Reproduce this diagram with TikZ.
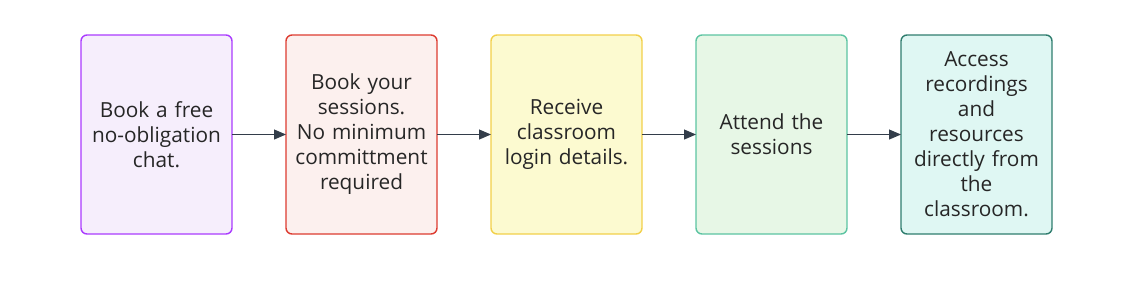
\documentclass[tikz,border=0pt]{standalone}
\usepackage{fontspec}
\setmainfont{Open Sans}
\usepackage{tikz}
\usetikzlibrary{arrows.meta, positioning}
\definecolor{chatpurple}{HTML}{AA3BFF}
\definecolor{chatfill}{HTML}{F6EEFC}
\definecolor{bookred}{HTML}{DD3B30}
\definecolor{bookfill}{HTML}{FCF0EE}
\definecolor{loginyellow}{HTML}{F2D04A}
\definecolor{loginfill}{HTML}{FCFAD0}
\definecolor{attendgreen}{HTML}{5CC4A2}
\definecolor{attendfill}{HTML}{E7F7E6}
\definecolor{accessteal}{HTML}{2F7D6E}
\definecolor{accessfill}{HTML}{DFF7F3}
\definecolor{linegray}{HTML}{333D4A}
\tikzset{
    stepbox/.style={rectangle, rounded corners=3pt, line width=0.7pt, outer sep=0pt, minimum width=75.5pt, minimum height=99.5pt, text width=74pt, align=center, inner sep=0pt, font=\fontsize{10.4}{12.5}\selectfont, text=black!85},
    purplebox/.style={stepbox, draw=chatpurple, fill=chatfill},
    redbox/.style={stepbox, draw=bookred, fill=bookfill},
    yellowbox/.style={stepbox, draw=loginyellow, fill=loginfill},
    greenbox/.style={stepbox, draw=attendgreen, fill=attendfill},
    tealbox/.style={stepbox, draw=accessteal, fill=accessfill},
    arrow/.style={-{Triangle[length=6pt, width=5pt]}, line width=0.5pt, draw=linegray}
}
\begin{document}
\begin{tikzpicture}[node distance=27pt]
        \useasboundingbox (0,0) rectangle (562pt,140.5pt);
        \node[purplebox] (chat) at (78.25pt,73.25pt) {Book a free\\no-obligation\\chat.};
        \node[redbox, right=of chat] (book) {Book your\\sessions.\\No minimum\\committment\\required};
        \node[yellowbox, right=of book] (login) {Receive\\classroom\\login details.};
        \node[greenbox, right=of login] (attend) {Attend the\\sessions};
        \node[tealbox, right=of attend] (access) {Access\\recordings\\and\\resources\\directly from\\the\\classroom.};

        \draw[arrow] (chat) -- (book);
        \draw[arrow] (book) -- (login);
        \draw[arrow] (login) -- (attend);
        \draw[arrow] (attend) -- (access);
    \end{tikzpicture}
\end{document}
